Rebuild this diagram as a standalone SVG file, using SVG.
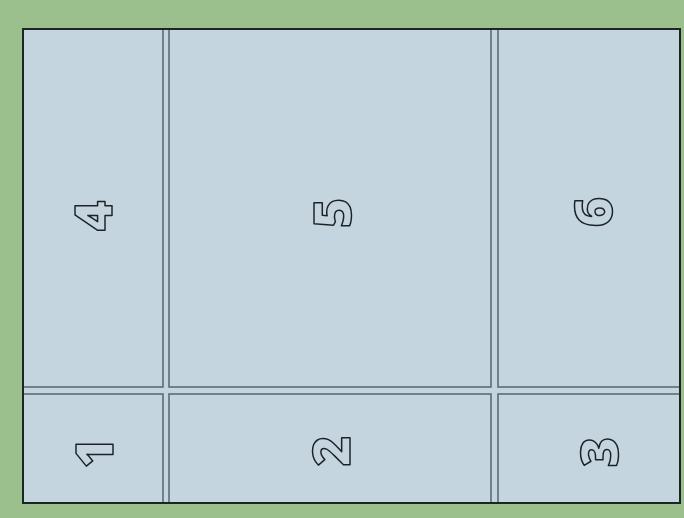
<svg xmlns="http://www.w3.org/2000/svg" width="684" height="518" viewBox="0 0 684 518">
<style>
.panel{fill:#c5d5df;stroke:#5d6c74;stroke-width:1.6}
.num{font-family:"Open Sans","Liberation Sans",Arial,sans-serif;font-weight:800;font-size:52px;fill:#c5d5df;stroke:#1c2226;stroke-width:1.5;stroke-linejoin:round;text-anchor:middle}
</style>
<rect x="0" y="0" width="684" height="518" fill="#9bbf8d"/>
<rect x="23" y="29" width="657" height="474" fill="#c5d5df"/>
<g id="panel4"><rect class="panel" x="23" y="29" width="140" height="358"/><text class="num" transform="translate(93,216) rotate(-90)" x="0" y="18.5">4</text></g>
<g id="panel5"><rect class="panel" x="169" y="29" width="322" height="358"/><text class="num" transform="translate(332,213) rotate(-90)" x="0" y="18.5">5</text></g>
<g id="panel6"><rect class="panel" x="498" y="29" width="182" height="358"/><text class="num" transform="translate(593,212) rotate(-90)" x="0" y="18.5">6</text></g>
<g id="panel1"><rect class="panel" x="23" y="394" width="140" height="109"/><text class="num" transform="translate(94,453) rotate(-90)" x="0" y="18.5">1</text></g>
<g id="panel2"><rect class="panel" x="169" y="394" width="322" height="109"/><text class="num" transform="translate(331,451) rotate(-90)" x="0" y="18.5">2</text></g>
<g id="panel3"><rect class="panel" x="498" y="394" width="182" height="109"/><text class="num" transform="translate(599,452) rotate(-90)" x="0" y="18.5">3</text></g>
<rect x="23" y="29" width="657" height="474" fill="none" stroke="#1a2620" stroke-width="2"/>
</svg>
